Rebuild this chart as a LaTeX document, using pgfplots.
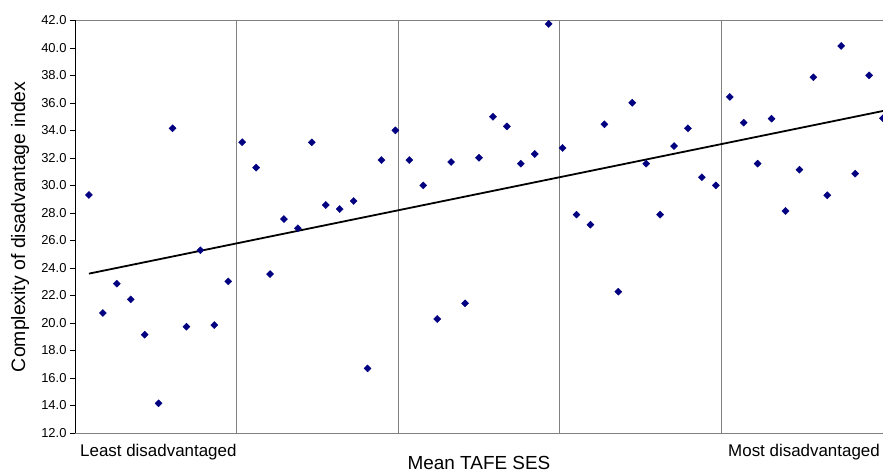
\documentclass[border=0pt]{standalone}
\usepackage{fontspec}
\setmainfont{Liberation Sans}
\usepackage{pgfplots}
\pgfplotsset{compat=1.18}
\definecolor{navy}{HTML}{000080}
\definecolor{gridgray}{HTML}{808080}
\begin{document}
\begin{tikzpicture}
\begin{axis}[
  scale only axis,
  width=808bp, height=412.5bp,
  xmin=0, xmax=58, ymin=12, ymax=42,
  axis lines=box,
  separate axis lines,
  x axis line style={gridgray, line width=0.8bp},
  y axis line style={black, line width=0.8bp},
  xtick={11.6,23.2,34.8,46.4},
  xticklabels={},
  xmajorgrids,
  major x grid style={gridgray, line width=0.8bp},
  x tick style={draw=none},
  ytick distance=2,
  ytick pos=left,
  tick align=outside,
  major tick length=5bp,
  y tick style={black, line width=0.6bp},
  /pgf/number format/assume math mode=true,
  yticklabel style={font=\fontsize{13}{15}\selectfont, /pgf/number format/.cd, fixed, fixed zerofill, precision=1},
  clip=true,
]
\addplot[only marks, mark=square*, mark size=2.5bp, mark options={rotate=45, fill=navy, draw=navy}] coordinates {
(1,29.31) (2,20.73) (3,22.86) (4,21.72) (5,19.15) (6,14.16) (7,34.16) (8,19.73) (9,25.29) (10,19.85)
(11,23.03) (12,33.15) (13,31.30) (14,23.56) (15,27.56) (16,26.89) (17,33.14) (18,28.58) (19,28.29) (20,28.87)
(21,16.70) (22,31.85) (23,34.01) (24,31.85) (25,30.01) (26,20.29) (27,31.71) (28,21.43) (29,32.02) (30,35.00)
(31,34.30) (32,31.59) (33,32.29) (34,41.75) (35,32.73) (36,27.88) (37,27.15) (38,34.45) (39,22.28) (40,36.02)
(41,31.59) (42,27.88) (43,32.87) (44,34.16) (45,30.60) (46,30.01) (47,36.44) (48,34.57) (49,31.59) (50,34.86)
(51,28.15) (52,31.15) (53,37.87) (54,29.29) (55,40.15) (56,30.86) (57,38.01) (58,34.89)
};
\addplot[black, line width=1.8bp, no marks] coordinates {(1,23.59) (58,35.42)};
\end{axis}
\node[anchor=base west, inner sep=0, font=\fontsize{17}{19}\selectfont] at ([xshift=5bp,yshift=-23bp]current axis.south west) {Least disadvantaged};
\node[anchor=base east, inner sep=0, font=\fontsize{17}{19}\selectfont] at ([xshift=-3bp,yshift=-23bp]current axis.south east) {Most disadvantaged};
\node[anchor=base, inner sep=0, font=\fontsize{19}{21}\selectfont] at ([yshift=-36bp]current axis.south) {Mean TAFE SES};
\node[anchor=base, rotate=90, inner sep=0, font=\fontsize{19.5}{22}\selectfont] at ([xshift=-50bp]current axis.west) {Complexity of disadvantage index};
\pgfresetboundingbox
\path[use as bounding box] ([xshift=-75bp,yshift=-41bp]current axis.south west) rectangle ([yshift=20.5bp]current axis.north east);
\end{tikzpicture}
\end{document}
